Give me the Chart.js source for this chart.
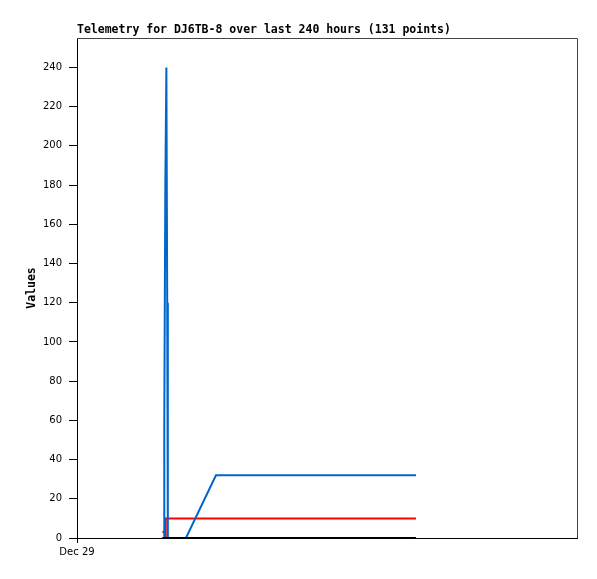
<!DOCTYPE html>
<html>
<head>
<meta charset="utf-8">
<script src="https://cdn.jsdelivr.net/npm/chart.js@4.4.0/dist/chart.umd.min.js"></script>
<style>
  body { margin: 0; background: #fff; }
  #wrap { width: 597px; height: 579px; }
</style>
</head>
<body>
<div id="wrap"><canvas id="chartTelemetria" width="597" height="579"></canvas></div>
<script>
// hours since Dec 29 00:00
const horasAzul = [41.0, 41.8, 41.9, 42.4, 42.9, 43.3, 43.6, 52.3, 66.7, 162.7];
const valoresAzul = [0, 0, 60, 180, 240, 120, 0, 0, 32, 32];

const horasVermelho = [41.0, 41.9, 42.4, 42.6, 162.7];
const valoresVermelho = [3, 3, 1, 10, 10];

const horasPreto = [41.0, 162.7];
const valoresPreto = [0, 0];

const rotuloX = 'Dec 29';
const titulo = 'Telemetry for DJ6TB-8 over last 240 hours (131 points)';

function pontos(horas, valores) {
    return horas.map((h, i) => ({ x: h, y: valores[i] }));
}

const fonteMono = "'DejaVu Sans Mono', monospace";

// titulo alinhado com a area do grafico + moldura
const extras = {
    id: 'extras',
    afterDraw(chart) {
        const ctx = chart.ctx;
        const a = chart.chartArea;
        ctx.save();
        ctx.strokeStyle = '#444';
        ctx.lineWidth = 1;
        ctx.beginPath();
        ctx.moveTo(a.left, a.top + 0.5);
        ctx.lineTo(a.right + 0.5, a.top + 0.5);
        ctx.lineTo(a.right + 0.5, a.bottom);
        ctx.stroke();
        ctx.fillStyle = '#000';
        ctx.font = "bold 11.5px " + fonteMono;
        ctx.textBaseline = 'alphabetic';
        ctx.fillText(titulo, a.left, a.top - 5);
        ctx.restore();
    }
};

window.chartTelemetria = new Chart(document.getElementById('chartTelemetria'), {
    type: 'line',
    data: {
        datasets: [{
            label: 'preto',
            data: pontos(horasPreto, valoresPreto),
            borderColor: '#000',
            borderWidth: 2,
            pointRadius: 0,
            clip: false
        }, {
            label: 'azul',
            data: pontos(horasAzul, valoresAzul),
            borderColor: '#0066cc',
            borderWidth: 2,
            pointRadius: 0,
            clip: false
        }, {
            label: 'vermelho',
            data: pontos(horasVermelho, valoresVermelho),
            borderColor: '#ff0000',
            borderWidth: 2,
            pointRadius: 0,
            clip: false
        }]
    },
    options: {
        responsive: false,
        animation: false,
        layout: { padding: { top: 38, right: 20, bottom: 0, left: 0 } },
        plugins: {
            legend: { display: false },
            tooltip: { enabled: false }
        },
        scales: {
            x: {
                type: 'linear',
                min: 0,
                max: 240,
                afterBuildTicks: axis => { axis.ticks = [{ value: 0 }]; },
                afterFit: axis => { axis.height = 41; },
                ticks: {
                    callback: () => rotuloX,
                    color: '#000',
                    font: { family: "'DejaVu Sans'", size: 10 },
                    padding: 3,
                    maxRotation: 0,
                    autoSkip: false
                },
                grid: { drawOnChartArea: false, drawTicks: true, tickLength: 5, color: '#000' },
                border: { color: '#000', width: 1 }
            },
            y: {
                min: 0,
                max: 255,
                afterBuildTicks: axis => {
                    const t = [];
                    for (let v = 0; v <= 240; v += 20) t.push({ value: v });
                    axis.ticks = t;
                },
                afterFit: axis => { axis.width = 77; },
                ticks: {
                    color: '#000',
                    font: { family: "'DejaVu Sans'", size: 10 },
                    padding: 7
                },
                grid: { drawOnChartArea: false, drawTicks: true, tickLength: 8, color: '#000' },
                border: { color: '#000', width: 1 },
                title: {
                    display: true,
                    text: 'Values',
                    color: '#000',
                    font: { family: fonteMono, size: 11.5, weight: 'bold' },
                    padding: { top: 25, bottom: 0 }
                }
            }
        }
    },
    plugins: [extras]
});
</script>
</body>
</html>
